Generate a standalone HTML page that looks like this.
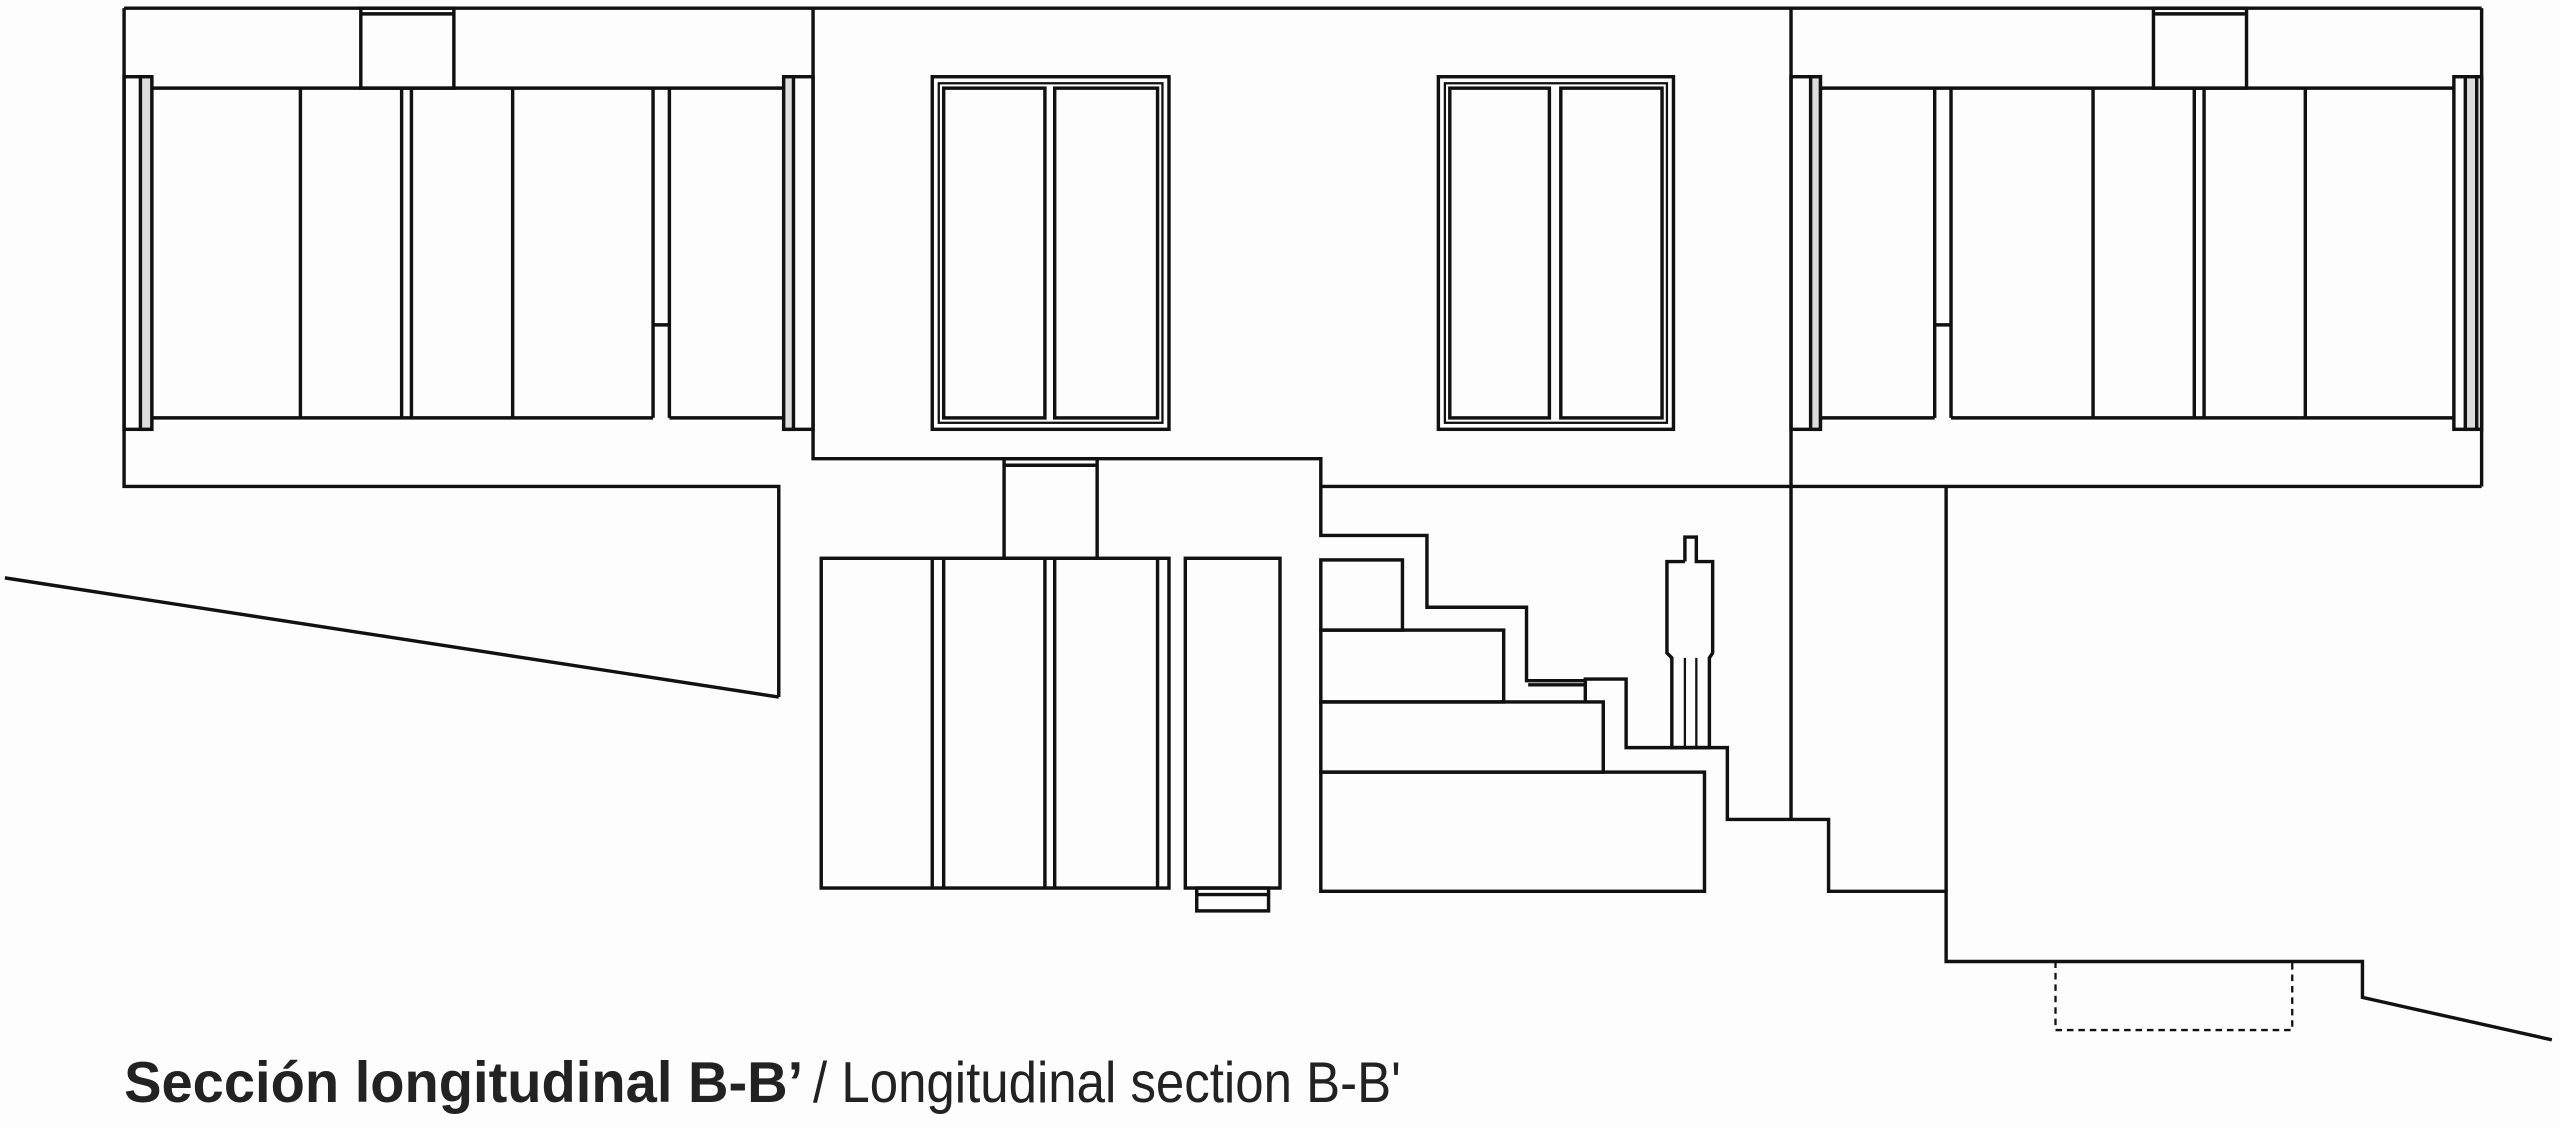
<!DOCTYPE html>
<html><head><meta charset="utf-8"><style>
html,body{margin:0;padding:0;background:#fff;}
svg{display:block;}
</style></head><body>
<svg width="2560" height="1128" viewBox="0 0 1568 691" preserveAspectRatio="none" xmlns="http://www.w3.org/2000/svg">
<rect width="1568" height="691" fill="#fdfdfd"/>
<g fill="none" stroke="#111" stroke-width="2.1" stroke-linejoin="miter">
<line x1="76" y1="5" x2="1520" y2="5"/>
<polyline points="76,5 76,298 477,298 477,427"/>
<line x1="3" y1="354" x2="477" y2="427"/>
<line x1="92" y1="54" x2="480" y2="54"/>
<rect x="221" y="5" width="57" height="49"/>
<line x1="221" y1="8.5" x2="278" y2="8.5"/>
<rect x="76" y="47" width="17" height="216"/>
<rect x="86" y="47" width="7" height="216" fill="#ddd"/>
<rect x="480" y="47" width="18" height="216"/>
<rect x="480" y="47" width="6" height="216" fill="#ddd"/>
<line x1="93" y1="256" x2="400" y2="256"/>
<line x1="410" y1="256" x2="480" y2="256"/>
<line x1="184" y1="54" x2="184" y2="256"/>
<line x1="246" y1="54" x2="246" y2="256"/>
<line x1="252" y1="54" x2="252" y2="256"/>
<line x1="314" y1="54" x2="314" y2="256"/>
<line x1="400" y1="54" x2="400" y2="256"/>
<line x1="410" y1="54" x2="410" y2="256"/>
<line x1="400" y1="199" x2="410" y2="199"/>
<polyline points="498,5 498,281 809,281 809,328 874,328 874,372 935,372 935,417 971,417 971,416 996,416 996,458 1058,458 1058,502 1120,502 1120,546 1192,546 1192,589 1447,589 1447,611 1563,637"/>
<line x1="936" y1="419.5" x2="971" y2="419.5"/>
<line x1="971" y1="416" x2="971" y2="430"/>
<line x1="809" y1="298" x2="1520" y2="298"/>
<rect x="571" y="47" width="145" height="216"/>
<rect x="575" y="51" width="137" height="208" stroke-width="1.4"/>
<rect x="578" y="54" width="62" height="202"/>
<rect x="646" y="54" width="63" height="202"/>
<rect x="881" y="47" width="144" height="216"/>
<rect x="885" y="51" width="136" height="208" stroke-width="1.4"/>
<rect x="888" y="54" width="61" height="202"/>
<rect x="956" y="54" width="62" height="202"/>
<polyline points="1097,5 1097,502"/>
<line x1="1520" y1="5" x2="1520" y2="298"/>
<line x1="1115" y1="54" x2="1503" y2="54"/>
<rect x="1319" y="5" width="57" height="49"/>
<line x1="1319" y1="8.5" x2="1376" y2="8.5"/>
<rect x="1097" y="47" width="18" height="216"/>
<rect x="1109" y="47" width="6" height="216" fill="#ddd"/>
<rect x="1503" y="47" width="17" height="216"/>
<rect x="1510" y="47" width="7" height="216" fill="#ddd"/>
<line x1="1115" y1="256" x2="1185" y2="256"/>
<line x1="1195" y1="256" x2="1503" y2="256"/>
<line x1="1185" y1="54" x2="1185" y2="256"/>
<line x1="1195" y1="54" x2="1195" y2="256"/>
<line x1="1185" y1="199" x2="1195" y2="199"/>
<line x1="1282" y1="54" x2="1282" y2="256"/>
<line x1="1344" y1="54" x2="1344" y2="256"/>
<line x1="1350" y1="54" x2="1350" y2="256"/>
<line x1="1412" y1="54" x2="1412" y2="256"/>
<line x1="1192" y1="298" x2="1192" y2="546"/>
<rect x="615" y="281" width="57" height="61"/>
<line x1="615" y1="285" x2="672" y2="285"/>
<rect x="503" y="342" width="213" height="202"/>
<line x1="571" y1="342" x2="571" y2="544"/>
<line x1="578" y1="342" x2="578" y2="544"/>
<line x1="640" y1="342" x2="640" y2="544"/>
<line x1="646" y1="342" x2="646" y2="544"/>
<line x1="709" y1="342" x2="709" y2="544"/>
<rect x="726" y="342" width="58" height="202"/>
<rect x="733" y="544" width="44" height="14"/>
<line x1="733" y1="548" x2="777" y2="548"/>
<rect x="809" y="343" width="50" height="43"/>
<rect x="809" y="386" width="112" height="44"/>
<rect x="809" y="430" width="173" height="43"/>
<rect x="809" y="473" width="235" height="73"/>
<polyline points="1032,344 1032,329 1039,329 1039,344 1049,344 1049,400 1047,403 1047,458 1024,458 1024,403 1021,400 1021,344 1032,344"/>
<line x1="1032" y1="403" x2="1032" y2="458" stroke-width="1.4"/>
<line x1="1039" y1="403" x2="1039" y2="458" stroke-width="1.4"/>
<polyline points="1259,589 1259,631 1404,631 1404,589" stroke-dasharray="4,3" stroke-width="1.4"/>
</g>
<text x="76" y="675" font-family="Liberation Sans, sans-serif" font-size="35" fill="#222" textLength="416" lengthAdjust="spacingAndGlyphs" font-weight="bold">Sección longitudinal B-B’</text>
<text x="498" y="675" font-family="Liberation Sans, sans-serif" font-size="35" fill="#222" textLength="360" lengthAdjust="spacingAndGlyphs">/ Longitudinal section B-B'</text>
</svg>
</body></html>
